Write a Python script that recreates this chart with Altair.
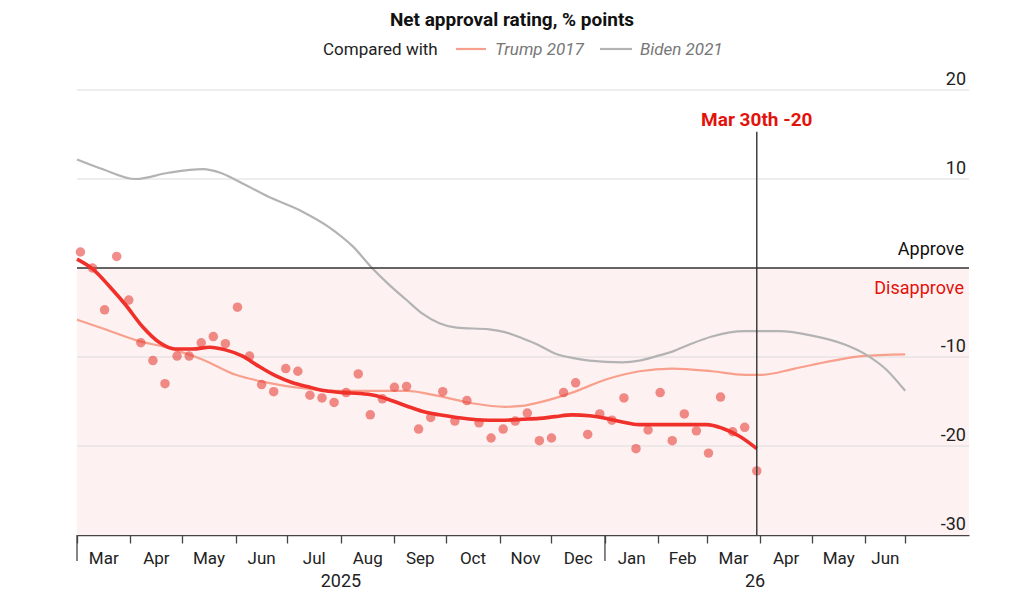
import altair as alt
import pandas as pd

# ---------------- data ----------------
poll_start = "2025-03-03"  # weekly polls (Mondays)
poll_values = [1.8, 0.0, -4.7, 1.3, -3.6, -8.4, -10.4, -13.0, -9.9, -9.9,
               -8.4, -7.7, -8.5, -4.4, -9.9, -13.1, -13.9, -11.3, -11.6, -14.3,
               -14.6, -15.1, -14.0, -11.9, -16.5, -14.7, -13.4, -13.3, -18.1, -16.8,
               -13.9, -17.2, -14.9, -17.4, -19.1, -18.1, -17.2, -16.3, -19.4, -19.1,
               -14.0, -12.9, -18.7, -16.4, -17.1, -14.6, -20.3, -18.2, -14.0, -19.4,
               -16.4, -18.3, -20.8, -14.5, -18.4, -17.9, -22.8]

avg_dates = ["2025-03-01", "2025-03-10", "2025-03-20", "2025-03-29", "2025-04-08",
             "2025-04-18", "2025-04-27", "2025-05-07", "2025-05-17", "2025-05-26",
             "2025-06-05", "2025-06-14", "2025-06-24", "2025-07-04", "2025-07-14",
             "2025-07-23", "2025-08-02", "2025-08-12", "2025-08-20", "2025-08-29",
             "2025-09-08", "2025-09-17", "2025-09-27", "2025-10-07", "2025-10-16",
             "2025-10-26", "2025-11-04", "2025-11-14", "2025-11-24", "2025-12-03",
             "2025-12-13", "2025-12-23", "2026-01-02", "2026-01-11", "2026-01-21",
             "2026-01-31", "2026-02-09", "2026-02-19", "2026-03-01", "2026-03-10",
             "2026-03-20", "2026-03-30"]
avg_values = [1.0, -0.1, -2.1, -4.1, -6.6,
              -8.4, -9.1, -9.1, -8.9, -9.2,
              -9.9, -11.0, -12.1, -12.9, -13.4,
              -13.8, -14.0, -14.1, -14.3, -14.8,
              -15.5, -16.1, -16.5, -16.8, -17.0,
              -17.1, -17.1, -17.0, -16.9, -16.7,
              -16.5, -16.6, -16.9, -17.3, -17.6,
              -17.6, -17.6, -17.6, -17.6, -18.0,
              -18.9, -20.3]

trump_dates = ["2025-03-01", "2025-03-16", "2025-04-04", "2025-04-23", "2025-05-13",
               "2025-06-01", "2025-06-20", "2025-07-10", "2025-07-29", "2025-08-19",
               "2025-09-08", "2025-09-27", "2025-10-16", "2025-11-04", "2025-11-14",
               "2025-11-24", "2025-12-13", "2026-01-02", "2026-01-21", "2026-02-09",
               "2026-03-04", "2026-03-23", "2026-04-02", "2026-04-21", "2026-05-11",
               "2026-05-30", "2026-06-24"]
trump_values = [-5.8, -6.8, -8.1, -9.0, -10.3,
                -12.0, -12.9, -13.5, -13.8, -13.8,
                -13.8, -14.4, -15.2, -15.6, -15.5,
                -15.1, -14.0, -12.5, -11.6, -11.3,
                -11.6, -12.0, -12.0, -11.3, -10.5,
                -9.9, -9.7]

biden_dates = ["2025-03-01", "2025-03-16", "2025-04-04", "2025-04-23", "2025-05-13",
               "2025-05-23", "2025-06-01", "2025-06-20", "2025-07-10", "2025-07-25",
               "2025-08-08", "2025-08-19", "2025-08-29", "2025-09-08", "2025-09-17",
               "2025-09-27", "2025-10-07", "2025-10-26", "2025-11-04", "2025-11-14",
               "2025-11-24", "2025-12-03", "2025-12-13", "2025-12-23", "2026-01-11",
               "2026-01-21", "2026-01-31", "2026-02-09", "2026-02-19", "2026-03-04",
               "2026-03-23", "2026-04-12", "2026-05-01", "2026-05-20", "2026-06-01",
               "2026-06-13", "2026-06-24"]
biden_values = [12.2, 11.1, 10.0, 10.7, 11.1,
                10.7, 9.9, 8.0, 6.3, 4.6,
                2.4, 0.0, -1.9, -3.6, -5.1,
                -6.2, -6.7, -6.9, -7.2, -7.9,
                -8.7, -9.6, -10.1, -10.4, -10.6,
                -10.4, -9.9, -9.4, -8.6, -7.7,
                -7.1, -7.1, -7.6, -8.6, -9.7,
                -11.4, -13.8]

month_ticks = ["2025-03-01", "2025-04-01", "2025-05-01", "2025-06-01", "2025-07-01",
               "2025-08-01", "2025-09-01", "2025-10-01", "2025-11-01", "2025-12-01",
               "2026-01-01", "2026-02-01", "2026-03-01", "2026-04-01", "2026-05-01",
               "2026-06-01", "2026-06-24"]
month_names = ["Mar", "Apr", "May", "Jun", "Jul", "Aug", "Sep", "Oct", "Nov", "Dec",
               "Jan", "Feb", "Mar", "Apr", "May", "Jun"]
year_names = ["2025", "26"]
year_spans = [("2025-03-01", "2026-01-01"), ("2026-01-01", "2026-06-24")]
tall_ticks = ["2025-03-01", "2026-01-01"]

y_grid = [20, 10, -10, -20]
y_ticks = [20, 10, -10, -20, -30]
y_tick_labels = ["20", "10", "-10", "-20", "-30"]

latest_date = "2026-03-30"
latest_label = "Mar 30th -20"
latest_top = 15.3

title_text = "Net approval rating, % points"
legend_intro = "Compared with"
series_names = ["Trump 2017", "Biden 2021"]

# ---------------- styling ----------------
W, H = 892, 445
FONT = "Roboto"
RED = "#e3120b"
LINE_RED = "#f0302a"
TRUMP_C = "#f8a08d"
BIDEN_C = "#b3b3b3"
AXIS_C = "#444444"

x_scale = alt.Scale(type="utc",
                    domain=[alt.DateTime(year=2025, month=3, date=1, utc=True),
                            alt.DateTime(year=2026, month=7, date=31, utc=True)])
y_scale = alt.Scale(domain=[-30, 20], nice=False, zero=False)


def dt(s):
    y, m, d = (int(p) for p in s.split("-"))
    return alt.DateTime(year=y, month=m, date=d, utc=True)


x_axis = alt.Axis(values=[dt(s) for s in month_ticks], labels=False, title=None,
                  grid=False, tickSize=8, tickWidth=1.3, tickColor=AXIS_C,
                  domainColor=AXIS_C, domainWidth=1.5)


def X(field):
    return alt.X(f"{field}:T", scale=x_scale, axis=x_axis)


def Y(field):
    return alt.Y(f"{field}:Q", scale=y_scale, axis=None)


# ---------------- tables ----------------
polls = pd.DataFrame({
    "date": pd.date_range(poll_start, periods=len(poll_values), freq="7D").strftime("%Y-%m-%d"),
    "value": poll_values,
})
avg = pd.DataFrame({"date": avg_dates, "value": avg_values})
trump = pd.DataFrame({"date": trump_dates, "value": trump_values})
biden = pd.DataFrame({"date": biden_dates, "value": biden_values})

tick_ts = pd.to_datetime(month_ticks)
mids = [(tick_ts[i] + (tick_ts[i + 1] - tick_ts[i]) / 2).strftime("%Y-%m-%dT%H:%M:%SZ")
        for i in range(len(month_names))]
months_df = pd.DataFrame({"date": mids, "label": month_names})
year_mids = []
for a, b in year_spans:
    ta, tb = pd.Timestamp(a), pd.Timestamp(b)
    year_mids.append((ta + (tb - ta) / 2).strftime("%Y-%m-%dT%H:%M:%SZ"))
years_df = pd.DataFrame({"date": year_mids, "label": year_names})
tall_df = pd.DataFrame({"date": tall_ticks})
grid_df = pd.DataFrame({"v": y_grid})
ylab_df = pd.DataFrame({"v": y_ticks, "label": y_tick_labels})
latest_df = pd.DataFrame({"date": [latest_date], "top": [latest_top], "bottom": [-30],
                          "label": [latest_label]})
one = pd.DataFrame({"v": [0]})

# ---------------- layers ----------------
shade = alt.Chart(one).mark_rect(color="#fdf2f1").encode(
    x=alt.value(0), x2=alt.value(W), y=alt.Y("v:Q", scale=y_scale, axis=None),
    y2=alt.datum(-30))

grid = alt.Chart(grid_df).mark_rule(color="#dcdcdc", strokeWidth=1).encode(
    y=Y("v"), x=alt.value(0), x2=alt.value(W))

biden_line = alt.Chart(biden).mark_line(color=BIDEN_C, strokeWidth=2.2,
                                        interpolate="monotone").encode(
    x=X("date"), y=Y("value"))
trump_line = alt.Chart(trump).mark_line(color=TRUMP_C, strokeWidth=2.2,
                                        interpolate="monotone").encode(
    x=X("date"), y=Y("value"))

zero = alt.Chart(one).mark_rule(color="#333333", strokeWidth=1.3).encode(
    y=Y("v"), x=alt.value(0), x2=alt.value(W))

dots = alt.Chart(polls).mark_circle(color="#e8413c", opacity=0.6, size=90).encode(
    x=X("date"), y=Y("value"))

avg_line = alt.Chart(avg).mark_line(color=LINE_RED, strokeWidth=3.6,
                                    interpolate="monotone").encode(
    x=X("date"), y=Y("value"))

vline = alt.Chart(latest_df).mark_rule(color="#333333", strokeWidth=1.4).encode(
    x=X("date"), y=Y("top"), y2="bottom")
vlabel = alt.Chart(latest_df).mark_text(font=FONT, fontSize=19, fontWeight="bold",
                                        color=RED, align="center", dy=-6,
                                        baseline="alphabetic").encode(
    x=X("date"), y=Y("top"), text="label:N")

tall = alt.Chart(tall_df).mark_rule(color=AXIS_C, strokeWidth=1.3).encode(
    x=X("date"), y=alt.value(H), y2=alt.value(H + 26))

month_text = alt.Chart(months_df).mark_text(font=FONT, fontSize=17, color="#222222",
                                            align="center", baseline="alphabetic").encode(
    x=X("date"), y=alt.value(H + 29), text="label:N")
year_text = alt.Chart(years_df).mark_text(font=FONT, fontSize=18, color="#222222",
                                          align="center", baseline="alphabetic").encode(
    x=X("date"), y=alt.value(H + 52), text="label:N")

ylabels = alt.Chart(ylab_df).mark_text(font=FONT, fontSize=18, color="#222222",
                                       align="right", baseline="alphabetic", dy=-5).encode(
    y=Y("v"), x=alt.value(W - 3), text="label:N")

approve = alt.Chart(one).mark_text(font=FONT, fontSize=18, color="#111111",
                                   align="right", baseline="alphabetic", dy=-13,
                                   text="Approve").encode(
    y=Y("v"), x=alt.value(W - 5))
disapprove = alt.Chart(one).mark_text(font=FONT, fontSize=18, color=RED,
                                      align="right", baseline="alphabetic", dy=26,
                                      text="Disapprove").encode(
    y=Y("v"), x=alt.value(W - 5))

title = alt.Chart(one).mark_text(font=FONT, fontSize=19, fontWeight="bold",
                                 color="#111111", align="center", baseline="alphabetic",
                                 text=title_text).encode(
    x=alt.value(435), y=alt.value(-64))
intro = alt.Chart(one).mark_text(font=FONT, fontSize=17, color="#222222",
                                 align="left", baseline="alphabetic",
                                 text=legend_intro).encode(
    x=alt.value(246), y=alt.value(-35))
sw1 = alt.Chart(one).mark_rule(color=TRUMP_C, strokeWidth=2.2).encode(
    x=alt.value(379), x2=alt.value(409), y=alt.value(-41))
lab1 = alt.Chart(one).mark_text(font=FONT, fontSize=17, fontStyle="italic",
                                color="#777777", align="left", baseline="alphabetic",
                                text=series_names[0]).encode(
    x=alt.value(418), y=alt.value(-35))
sw2 = alt.Chart(one).mark_rule(color=BIDEN_C, strokeWidth=2.2).encode(
    x=alt.value(523), x2=alt.value(555), y=alt.value(-41))
lab2 = alt.Chart(one).mark_text(font=FONT, fontSize=17, fontStyle="italic",
                                color="#777777", align="left", baseline="alphabetic",
                                text=series_names[1]).encode(
    x=alt.value(563), y=alt.value(-35))

chart = alt.layer(
    shade, grid, trump_line, biden_line, zero, dots, avg_line, vline, vlabel,
    tall, month_text, year_text, ylabels, approve, disapprove,
    title, intro, sw1, lab1, sw2, lab2,
).properties(
    width=W, height=H,
    padding={"left": 69, "top": 82, "right": 20, "bottom": 70},
    autosize=alt.AutoSizeParams(type="none"),
).configure(font=FONT).configure_view(stroke=None)

chart.save("out.html", embed_options={"renderer": "svg", "actions": False})
